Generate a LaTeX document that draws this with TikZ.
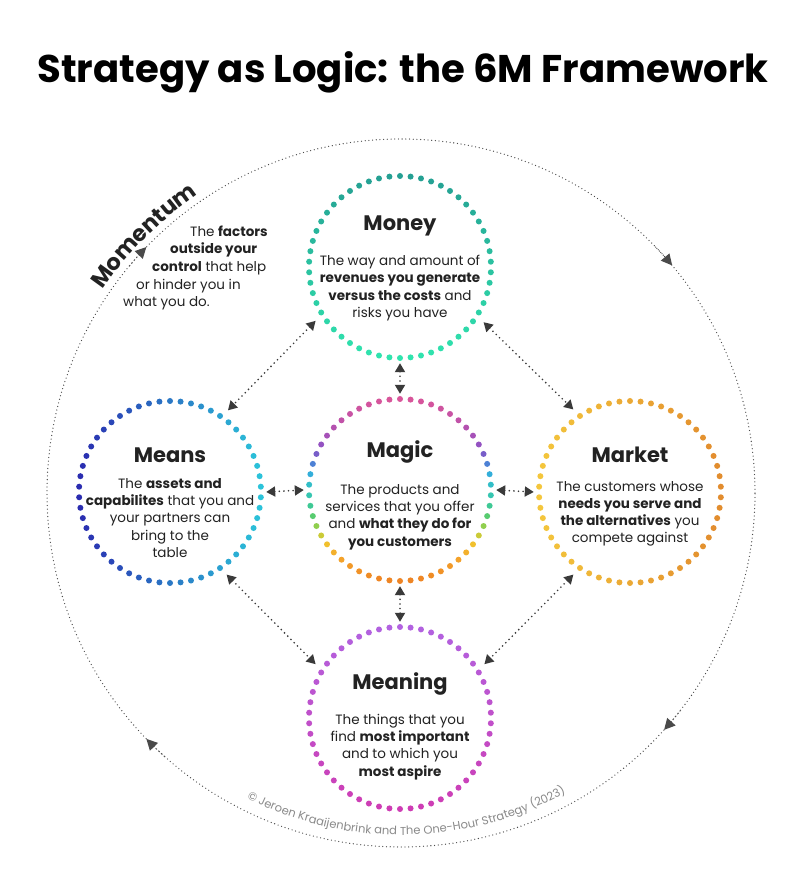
\documentclass[tikz,border=0pt]{standalone}
\usepackage{fontspec}
\setmainfont{Poppins}
\usetikzlibrary{arrows.meta,decorations.text}
\definecolor{txt}{HTML}{222222}
\definecolor{arrc}{HTML}{3A3A3A}
\definecolor{outc}{HTML}{4A4A4A}
\definecolor{copyc}{HTML}{8A8A8A}
\definecolor{moneyT}{HTML}{25A093}
\definecolor{moneyB}{HTML}{30E4AE}
\definecolor{meanL}{HTML}{2A2CB0}
\definecolor{meanR}{HTML}{2BC3DA}
\definecolor{markL}{HTML}{F4C63C}
\definecolor{markR}{HTML}{E28C2E}
\definecolor{meanT}{HTML}{B262E0}
\definecolor{meanB}{HTML}{CE3DB4}
\definecolor{mg0}{HTML}{D9559A}
\definecolor{mg1}{HTML}{C052A8}
\definecolor{mg2}{HTML}{9A50C0}
\definecolor{mg3}{HTML}{6E62CC}
\definecolor{mg4}{HTML}{4A84D6}
\definecolor{mg5}{HTML}{30B4DA}
\definecolor{mg6}{HTML}{33C4BE}
\definecolor{mg7}{HTML}{3CC99A}
\definecolor{mg8}{HTML}{55CC72}
\definecolor{mg9}{HTML}{A6D040}
\definecolor{mg10}{HTML}{F0C72E}
\definecolor{mg11}{HTML}{F4A32A}
\definecolor{mg12}{HTML}{EE8424}
\newcommand\mixseg[4]{\pgfmathsetmacro\pp{max(0,min(100,100*(\myt-#1)/(#2-#1)))}\colorlet{dotc}{#4!\pp!#3}}
\newcommand\magicmix{%
 \ifdim\myt pt<0.12pt \mixseg{0}{0.12}{mg0}{mg1}\else
 \ifdim\myt pt<0.24pt \mixseg{0.12}{0.24}{mg1}{mg2}\else
 \ifdim\myt pt<0.32pt \mixseg{0.24}{0.32}{mg2}{mg3}\else
 \ifdim\myt pt<0.36pt \mixseg{0.32}{0.36}{mg3}{mg4}\else
 \ifdim\myt pt<0.42pt \mixseg{0.36}{0.42}{mg4}{mg5}\else
 \ifdim\myt pt<0.50pt \mixseg{0.42}{0.50}{mg5}{mg6}\else
 \ifdim\myt pt<0.58pt \mixseg{0.50}{0.58}{mg6}{mg7}\else
 \ifdim\myt pt<0.64pt \mixseg{0.58}{0.64}{mg7}{mg8}\else
 \ifdim\myt pt<0.72pt \mixseg{0.64}{0.72}{mg8}{mg9}\else
 \ifdim\myt pt<0.78pt \mixseg{0.72}{0.78}{mg9}{mg10}\else
 \ifdim\myt pt<0.88pt \mixseg{0.78}{0.88}{mg10}{mg11}\else
 \mixseg{0.88}{1}{mg11}{mg12}\fi\fi\fi\fi\fi\fi\fi\fi\fi\fi\fi}
\newcommand\ringV[4]{%
 \foreach \i in {0,...,53}{%
  \pgfmathsetmacro\a{90+\i*20/3}%
  \pgfmathsetmacro\pp{max(0,min(100,100*(1-sin(\a))/2))}%
  \fill[#4!\pp!#3] (#1,#2) ++(\a:91) circle (3pt);}}
\newcommand\ringH[4]{%
 \foreach \i in {0,...,53}{%
  \pgfmathsetmacro\a{90+\i*20/3}%
  \pgfmathsetmacro\pp{max(0,min(100,100*(1+cos(\a))/2))}%
  \fill[#4!\pp!#3] (#1,#2) ++(\a:91) circle (3pt);}}
\tikzset{
 ring/.style={circle, minimum size=192pt, inner sep=0pt},
 head/.style={font=\fontsize{21}{24}\selectfont\bfseries, text=txt, anchor=base, inner sep=0pt},
 body/.style={font=\fontsize{13.5}{17.2}\selectfont, text=txt, align=center, inner sep=0pt},
 side/.style={font=\fontsize{13.5}{17}\selectfont, text=txt, anchor=base west, inner sep=0pt},
 conn/.style={draw=arrc, line width=1.8pt, dash pattern=on 0pt off 4.6pt, line cap=round,
   {Triangle[length=9pt,width=10pt]}-{Triangle[length=9pt,width=10pt]}},
 outerline/.style={draw=outc, line width=1.3pt, dash pattern=on 0pt off 3.7pt, line cap=round},
}
\begin{document}
\begin{tikzpicture}[x=1pt,y=1pt]
\useasboundingbox[fill=white] (0,0) rectangle (800,881);
% title
\node[font=\fontsize{38.6}{42}\selectfont\bfseries, anchor=base, inner sep=0pt] (title) at (403,798) {Strategy as Logic: the 6M Framework};
% outer circle
\coordinate (O) at (401,388);
\draw[outerline] (O) circle (354pt);
\foreach \t in {136,40,-42,224}{
 \draw[outerline, -{Triangle[length=11pt,width=11pt]}] ([shift={(401,388)}]\t+4:354pt) arc[start angle=\t+4, end angle=\t, radius=354pt];
}
\path[decorate, decoration={text along path, text align=center,
  text={|\fontsize{22.5}{24}\selectfont\bfseries\color{txt}|Momentum}}]
  ([shift={(401,388)}]153:361pt) arc[start angle=153, end angle=117, radius=361pt];
\path[decorate, decoration={text along path, text align=center,
  text={|\fontsize{11.5}{13}\selectfont\color{copyc}|© Jeroen Kraaijenbrink and The One-Hour Strategy  (2023)}}]
  ([shift={(401,388)}]241:342pt) arc[start angle=241, end angle=301, radius=342pt];
% ring nodes
\node[ring] (money) at (400,614) {};
\node[ring] (means) at (170,389) {};
\node[ring] (magic) at (400,391) {};
\node[ring] (market) at (630,389) {};
\node[ring] (meaning) at (400,163) {};
% dots
\ringV{400}{614}{moneyT}{moneyB}
\ringH{170}{389}{meanL}{meanR}
\ringH{630}{389}{markL}{markR}
\ringV{400}{163}{meanT}{meanB}
\foreach \i in {0,...,53}{%
  \pgfmathsetmacro\a{90+\i*20/3}%
  \pgfmathsetmacro\myt{(1-sin(\a))/2}%
  \magicmix
  \fill[dotc] (400,391) ++(\a:91) circle (3pt);}
% connectors
\draw[conn, shorten <=4pt, shorten >=4pt] (money.212.7) -- (means.55.7);
\draw[conn, shorten <=4pt, shorten >=4pt] (money.327.3) -- (market.124.3);
\draw[conn, shorten <=4pt, shorten >=4pt] (means.304) -- (meaning.148);
\draw[conn, shorten <=4pt, shorten >=4pt] (market.236) -- (meaning.32);
\draw[conn] (money.south) -- (magic.north);
\draw[conn] (magic.south) -- (meaning.north);
\draw[conn] (means.east) -- (magic.west);
\draw[conn] (magic.east) -- (market.west);
% headings
\node[head] (hmoney) at (400,650) {Money};
\node[head] (hmeans) at (170,418) {Means};
\node[head] (hmagic) at (400,423) {Magic};
\node[head] (hmarket) at (630,418) {Market};
\node[head] (hmeaning) at (400,191) {Meaning};
% body texts
\node[body] (tmoney) at (400,593) {The way and amount of\\\textbf{revenues you generate}\\\textbf{versus the costs} and\\risks you have};
\node[body] (tmeans) at (170,363) {The \textbf{assets and}\\\textbf{capabilites} that you and\\your partners can\\bring to the\\table};
\node[body] (tmagic) at (400,364) {The products and\\services that you offer\\and \textbf{what they do for}\\\textbf{you customers}};
\node[body] (tmarket) at (630,367) {The customers whose\\\textbf{needs you serve and}\\\textbf{the alternatives} you\\compete against};
\node[body] (tmeaning) at (400,134) {The things that you\\find \textbf{most important}\\and to which you\\\textbf{most aspire}};
% momentum text
\node[side] (m1) at (190,644) {The \textbf{factors}};
\node[side] (m2) at (170,627) {\textbf{outside your}};
\node[side] (m3) at (152,609) {\textbf{control} that help};
\node[side] (m4) at (136,591) {or hinder you in};
\node[side] (m5) at (123,574) {what you do.};
\end{tikzpicture}
\end{document}
